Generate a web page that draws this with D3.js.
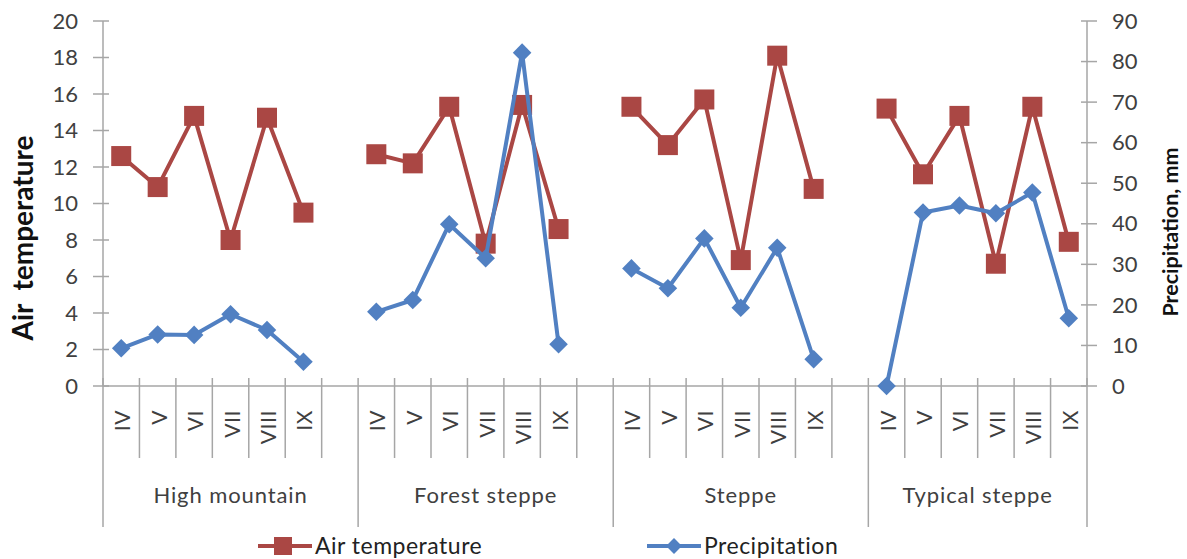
<!DOCTYPE html>
<html>
<head>
<meta charset="utf-8">
<script src="https://cdn.jsdelivr.net/npm/d3@7"></script>
<style>
	body{margin:0;background:#fff;}
	svg{display:block;font-family:Lato,'Open Sans',sans-serif;}
</style>
</head>
<body>
<svg id="chart" width="1187" height="559"></svg>
<script>
const zones = ['High mountain','Forest steppe','Steppe','Typical steppe'];
const months = ['IV','V','VI','VII','VIII','IX'];
// per zone, months IV..IX
const airTemperature = [
	[12.6,10.9,14.8,8.0,14.7,9.5],
	[12.7,12.2,15.3,7.8,15.4,8.6],
	[15.3,13.2,15.7,6.9,18.1,10.8],
	[15.2,11.6,14.8,6.7,15.3,7.9]
];
const precipitation = [
	[9.3,12.7,12.6,17.7,13.8,6.0],
	[18.3,21.2,39.9,31.5,82.2,10.3],
	[29.0,24.1,36.4,19.3,34.1,6.6],
	[0,42.8,44.5,42.6,47.7,16.7]
];
const tempTicks = d3.range(0,21,2);
const precTicks = d3.range(0,91,10);

const red = '#AA4744';
const blue = '#5180C2';
const axisGrey = '#a6a6a6';
const textCol = '#404040';

const svg = d3.select('#chart');
const plotLeft = 103, plotRight = 1087, plotTop = 21, plotBottom = 386;

// slots: 6 months per zone plus an empty slot between zones
const slots = [];
zones.forEach((z,zi)=>{
	months.forEach((m,mi)=>slots.push({key:zi+'-'+mi,zone:zi,month:m,t:airTemperature[zi][mi],p:precipitation[zi][mi]}));
	if(zi<zones.length-1) slots.push({key:zi+'-gap',zone:zi,month:null});
});

const x = d3.scaleBand().domain(slots.map(d=>d.key)).range([plotLeft,plotRight]).padding(0);
const bw = x.bandwidth();
const cx = d=>x(d.key)+bw/2;
const yT = d3.scaleLinear().domain([0,20]).range([plotBottom,plotTop]);
const yP = d3.scaleLinear().domain([0,90]).range([plotBottom,plotTop]);

// left axis
const gl = svg.append('g');
gl.append('line').attr('x1',plotLeft).attr('x2',plotLeft).attr('y1',plotTop).attr('y2',plotBottom).attr('stroke',axisGrey).attr('stroke-width',1.5);
gl.selectAll('line.tick').data(tempTicks).join('line').classed('tick',true)
	.attr('x1',plotLeft-10).attr('x2',plotLeft+6).attr('y1',d=>yT(d)).attr('y2',d=>yT(d))
	.attr('stroke',axisGrey).attr('stroke-width',1.5);
gl.selectAll('text').data(tempTicks).join('text')
	.attr('x',plotLeft-25).attr('y',d=>yT(d)).attr('dy','0.35em')
	.attr('text-anchor','end').attr('font-size',22).attr('fill',textCol)
	.text(d=>d);
svg.append('text')
	.attr('transform','translate(23,238) rotate(-90)')
	.attr('text-anchor','middle').attr('dy','0.35em')
	.attr('font-size',28).attr('font-weight','bold').attr('fill','#111')
	.attr('xml:space','preserve')
	.text('Air  temperature');

// right axis
const gr = svg.append('g');
gr.append('line').attr('x1',plotRight).attr('x2',plotRight).attr('y1',plotTop).attr('y2',plotBottom).attr('stroke',axisGrey).attr('stroke-width',1.5);
gr.selectAll('line.tick').data(precTicks).join('line').classed('tick',true)
	.attr('x1',plotRight-6).attr('x2',plotRight+10).attr('y1',d=>yP(d)).attr('y2',d=>yP(d))
	.attr('stroke',axisGrey).attr('stroke-width',1.5);
gr.selectAll('text').data(precTicks).join('text')
	.attr('x',plotRight+25).attr('y',d=>yP(d)).attr('dy','0.35em')
	.attr('text-anchor','start').attr('font-size',22).attr('fill',textCol)
	.text(d=>d);
svg.append('text')
	.attr('transform','translate(1170,232) rotate(-90)')
	.attr('text-anchor','middle').attr('dy','0.35em')
	.attr('font-size',21.5).attr('font-weight','bold').attr('fill','#111')
	.text('Precipitation, mm');

// category axis
const gx = svg.append('g');
gx.append('line').attr('x1',plotLeft).attr('x2',plotRight).attr('y1',plotBottom).attr('y2',plotBottom).attr('stroke',axisGrey).attr('stroke-width',1.5);
// separators between slots
const bounds = slots.map(d=>x(d.key)).concat([plotRight]);
gx.selectAll('line.sep').data(bounds).join('line').classed('sep',true)
	.attr('x1',d=>d).attr('x2',d=>d)
	.attr('y1',plotBottom-8)
	.attr('y2',(d,i)=>{
		// zone boundaries run further down
		if(i===0||i===bounds.length-1) return 527;
		const prev = slots[i-1];
		return prev.month===null ? 527 : 458;
	})
	.attr('stroke',axisGrey).attr('stroke-width',1.5);
gx.selectAll('text.month').data(slots.filter(d=>d.month)).join('text').classed('month',true)
	.attr('transform',d=>'translate('+(cx(d)+9)+','+(plotBottom+24)+') rotate(-90)')
	.attr('text-anchor','end').attr('font-size',21).attr('letter-spacing',0.6).attr('fill',textCol)
	.text(d=>d.month);
// zone labels
const zoneExtent = zones.map((z,zi)=>{
	const s = slots.filter(d=>d.zone===zi);
	const x0 = x(s[0].key);
	const x1 = x(s[s.length-1].key)+bw;
	return {name:z,mid:(x0+x1)/2};
});
gx.selectAll('text.zone').data(zoneExtent).join('text').classed('zone',true)
	.attr('x',d=>d.mid).attr('y',495).attr('dy','0.35em')
	.attr('text-anchor','middle').attr('font-size',22).attr('letter-spacing',0.9).attr('fill',textCol)
	.text(d=>d.name);

// series
const byZone = zones.map((z,zi)=>slots.filter(d=>d.zone===zi && d.month));
const lineT = d3.line().x(cx).y(d=>yT(d.t));
const lineP = d3.line().x(cx).y(d=>yP(d.p));

const gT = svg.append('g');
gT.selectAll('path').data(byZone).join('path')
	.attr('d',lineT).attr('fill','none').attr('stroke',red).attr('stroke-width',4).attr('stroke-linejoin','round');
gT.selectAll('rect').data(slots.filter(d=>d.month)).join('rect')
	.attr('x',d=>cx(d)-10).attr('y',d=>yT(d.t)-10).attr('width',20).attr('height',20)
	.attr('fill',red);

const gP = svg.append('g');
gP.selectAll('path').data(byZone).join('path')
	.attr('d',lineP).attr('fill','none').attr('stroke',blue).attr('stroke-width',4).attr('stroke-linejoin','round');
const diamond = d3.symbol().type(d3.symbolDiamond2).size(220);
gP.selectAll('path.pt').data(slots.filter(d=>d.month)).join('path').classed('pt',true)
	.attr('transform',d=>'translate('+cx(d)+','+yP(d.p)+')')
	.attr('d',diamond).attr('fill',blue);

// legend
const legend = [
	{name:'Air temperature',color:red,shape:'square',x:258},
	{name:'Precipitation',color:blue,shape:'diamond',x:647}
];
const lg = svg.append('g');
const ly = 546;
legend.forEach(l=>{
	lg.append('line').attr('x1',l.x).attr('x2',l.x+54).attr('y1',ly).attr('y2',ly).attr('stroke',l.color).attr('stroke-width',4);
	if(l.shape==='square'){
		lg.append('rect').attr('x',l.x+25-9).attr('y',ly-9).attr('width',18).attr('height',18).attr('fill',l.color);
	}else{
		lg.append('path').attr('transform','translate('+(l.x+27)+','+ly+')').attr('d',d3.symbol().type(d3.symbolDiamond2).size(160)).attr('fill',l.color);
	}
	lg.append('text').attr('x',l.x+57).attr('y',ly).attr('dy','0.35em')
		.attr('font-size',23).attr('letter-spacing',0.5).attr('fill','#222').text(l.name);
});
</script>
</body>
</html>
